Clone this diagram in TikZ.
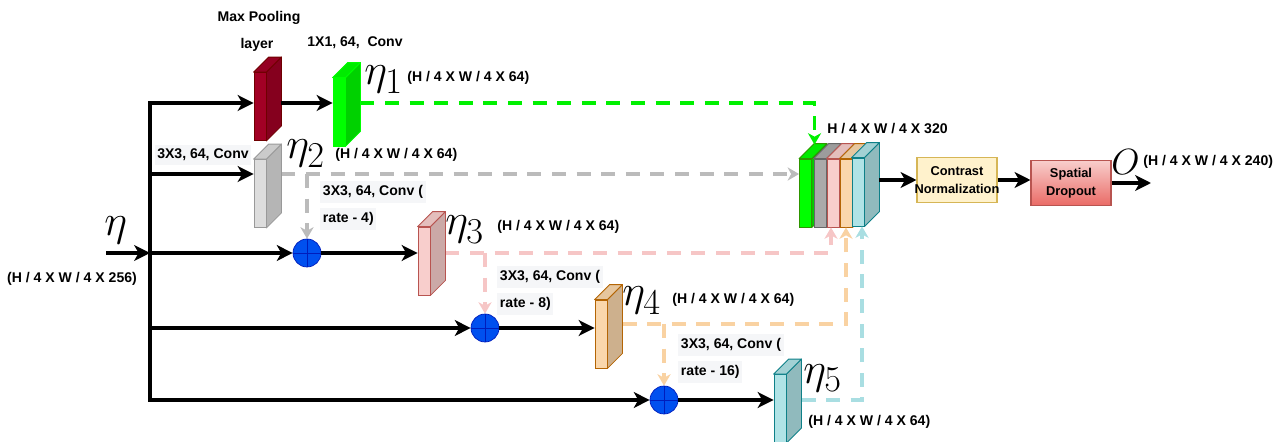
\documentclass[tikz,border=0pt]{standalone}
\usepackage{fontspec}
\setmainfont{Liberation Sans}
\usetikzlibrary{arrows.meta,calc}

\definecolor{mpred}{HTML}{A20025}
\definecolor{mpredline}{HTML}{6F0000}
\definecolor{convgreen}{HTML}{00FF00}
\definecolor{convgreenline}{HTML}{2D9600}
\definecolor{convgray}{HTML}{DDDDDD}
\definecolor{convgrayline}{HTML}{999999}
\definecolor{stackgray}{HTML}{AAAAAA}
\definecolor{stackgrayline}{HTML}{666666}
\definecolor{convpink}{HTML}{F8CECC}
\definecolor{convpinkline}{HTML}{B85450}
\definecolor{convorange}{HTML}{FAD7AC}
\definecolor{convorangeline}{HTML}{B46504}
\definecolor{convcyan}{HTML}{B0E3E6}
\definecolor{convcyanline}{HTML}{0E8088}
\definecolor{dashgreen}{HTML}{00F000}
\definecolor{dashgray}{HTML}{BBBBBB}
\definecolor{dashpink}{HTML}{F6C6C6}
\definecolor{dashorange}{HTML}{F9D2A2}
\definecolor{dashcyan}{HTML}{A9DEE2}
\definecolor{plusblue}{HTML}{0050EF}
\definecolor{plusdark}{HTML}{001DBC}
\definecolor{normfill}{HTML}{FFF2CC}
\definecolor{normline}{HTML}{D6B656}
\definecolor{dropfillA}{HTML}{F8CECC}
\definecolor{dropfillB}{HTML}{EA6B66}
\definecolor{dropline}{HTML}{B85450}
\definecolor{labelbg}{HTML}{F5F6F8}

% depth faces (side and top) of a slab whose front face is node #1
\newcommand\slabdepth[3]{%
  \filldraw[fill=#2!82!black, draw=#3, line width=0.5pt, line join=round]
    (#1.north east) -- ++(15,-15) -- ([shift={(15,-15)}]#1.south east) -- (#1.south east) -- cycle;
  \filldraw[fill=#2!92!black, draw=#3, line width=0.5pt, line join=round]
    (#1.north west) -- ++(15,-15) -- ([shift={(15,-15)}]#1.north east) -- (#1.north east) -- cycle;
}

\begin{document}
\begin{tikzpicture}[x=0.02cm, y=-0.02cm,
  slab/.style={draw, line width=0.5pt, minimum width=0.24cm, minimum height=1.36cm, inner sep=0},
  lbl/.style={font=\bfseries\fontsize{8}{9.6}\selectfont, inner sep=0},
  boxlbl/.style={font=\bfseries\fontsize{7.3}{9}\selectfont, align=center, inner sep=0},
  convlbl/.style={font=\bfseries\fontsize{8}{9.6}\selectfont, fill=labelbg, inner xsep=1.5pt, inner ysep=2.5pt},
  etal/.style={font=\fontsize{28.5}{28.5}\selectfont, inner sep=0, anchor=base west},
  arr/.style={line width=2.3pt, -{Stealth[length=9pt, width=9pt, inset=2.5pt]}},
  dsh/.style={line width=2.2pt, dash pattern=on 8pt off 6pt, -{Stealth[length=6.5pt, width=7.5pt, inset=2pt]}},
  oplus/.style={circle, fill=plusblue, draw=plusdark, line width=0.4pt, minimum size=0.56cm, inner sep=0,
    path picture={\draw[plusdark, line width=0.5pt]
      (path picture bounding box.north) -- (path picture bounding box.south)
      (path picture bounding box.west) -- (path picture bounding box.east);}},
  procbox/.style={draw, line width=0.6pt, minimum width=1.6cm, minimum height=0.9cm, inner sep=0}
]
\useasboundingbox (0,0) rectangle (1285,442);

% ---------- branch points on the input trunk ----------
\coordinate (t0) at (150,103);
\coordinate (b2) at (150,174);
\coordinate (b3) at (150,253);
\coordinate (b4) at (150,328);
\coordinate (t4) at (150,400);
\coordinate (in) at (106,253);

% ---------- sum nodes ----------
\node[oplus] (s1) at (307,253) {};
\node[oplus] (s2) at (485,328) {};
\node[oplus] (s3) at (664,400) {};

% ---------- slabs of the branches ----------
\node[slab, fill=mpred, draw=mpredline] (mp) at (260,106.5) {};
\node[slab, fill=convgreen, draw=convgreen] (c1) at (339,112) {};
\node[slab, fill=convgray, draw=convgrayline] (g) at (260,193.5) {};
\node[slab, fill=convpink, draw=convpinkline] (p) at (424,261) {};
\node[slab, fill=convorange, draw=convorangeline] (o) at (601,334) {};
\node[slab, fill=convcyan, draw=convcyanline] (cy) at (780,408.5) {};

% ---------- concatenated stack ----------
\node[slab, fill=convgreen, draw=convgreenline] (k1) at (805.5,193) {};
\slabdepth{k1}{convgreen}{convgreenline}
\node[slab, fill=stackgray, draw=stackgrayline] (k2) at (820,193) {};
\slabdepth{k2}{stackgray}{stackgrayline}
\node[slab, fill=convpink, draw=convpinkline] (k3) at (833,193) {};
\slabdepth{k3}{convpink}{convpinkline}
\node[slab, fill=convorange, draw=convorangeline] (k4) at (846,193) {};
\slabdepth{k4}{convorange}{convorangeline}
\node[slab, fill=convcyan, draw=convcyanline] (k5) at (858,192) {};
\slabdepth{k5}{convcyan}{convcyanline}

% ---------- processing boxes ----------
\node[procbox, fill=normfill, draw=normline] (cn) at (957,180) {};
\node[boxlbl] at (cn) {Contrast\\[1pt]Normalization};
\node[procbox, top color=dropfillA, bottom color=dropfillB, draw=dropline] (sd) at (1071,183) {};
\node[boxlbl] at (sd) {Spatial\\[1pt]Dropout};

% ---------- dashed skip connections ----------
\coordinate (gstart) at ($(g.east |- b2)+(15,0)$);
\draw[dsh, dashgray] (gstart) -- (gstart -| k1.west);
\draw[dsh, dashgray] (s1 |- b2) -- (s1.north);

\coordinate (pstart) at ($(p.east |- b3)+(15,0)$);
\coordinate (pup) at ($(k3.south)+(-2,0)$);
\draw[dsh, dashpink] (pstart) -- (pstart -| pup) -- (pup);
\draw[dsh, dashpink] (s2 |- b3) -- (s2.north);

\coordinate (ostart) at ($(o.east)+(15,-10)$);
\coordinate (oup) at (k4.south);
\draw[dsh, dashorange] (ostart) -- (ostart -| oup) -- (oup);
\draw[dsh, dashorange] (s3 |- ostart) -- (s3.north);

\coordinate (cstart) at ($(cy.east |- t4)+(15,0)$);
\coordinate (cup) at ($(k5.south)+(4,0)$);
\draw[dsh, dashcyan] (cstart) -- (cstart -| cup) -- (cup);

\coordinate (gnstart) at ($(c1.east |- t0)+(15,0)$);
\coordinate (gndown) at ($(k1.north)+(9,-14)$);
\draw[dsh, dashgreen] (gnstart) -- (gnstart -| gndown) -- (gndown);

% ---------- black data flow ----------
\draw[arr] (t4) -- (t0) -- (t0 -| mp.west);
\draw[arr] (t0) -- (t4) -- (s3.west);
\draw[arr] (in) -- (b3);
\draw[arr] (b2) -- (b2 -| g.west);
\draw[arr] (b3) -- (s1.west);
\draw[arr] (b4) -- (s2.west);
\draw[arr] (s1.east) -- (s1.east -| p.west);
\draw[arr] (s2.east) -- (s2.east -| o.west);
\draw[arr] (s3.east) -- (s3.east -| cy.west);

% depth faces of the branch slabs drawn over the line ends
\slabdepth{mp}{mpred}{mpredline}
\slabdepth{c1}{convgreen}{convgreen}
\slabdepth{g}{convgray}{convgrayline}
\slabdepth{p}{convpink}{convpinkline}
\slabdepth{o}{convorange}{convorangeline}
\slabdepth{cy}{convcyan}{convcyanline}

\draw[arr] ($(mp.east |- t0)+(15,0)$) -- (t0 -| c1.west);

\coordinate (kout) at ($(k5.east)+(15,-12)$);
\draw[arr] (kout) -- (cn.west);
\draw[arr] (cn.east) -- (cn.east -| sd.west);
\coordinate (oend) at (1151,183);
\draw[arr] (sd.east) -- (oend);

% ---------- labels ----------
\node[lbl] (lmp1) at (259,18) {Max Pooling};
\node[lbl] (lmp2) at (257,45) {layer};
\node[lbl] (lc1) at (355,43) {1X1, 64,\ \ Conv};
\node[convlbl] (lg) at (203,155) {3X3, 64, Conv};

\node[convlbl, anchor=west] (r4a) at (320,192) {3X3, 64, Conv (};
\node[convlbl, anchor=west] (r4b) at (320,219) {rate - 4)};
\node[convlbl, anchor=west] (r8a) at (497,277) {3X3, 64, Conv (};
\node[convlbl, anchor=west] (r8b) at (497,304) {rate - 8)};
\node[convlbl, anchor=west] (r16a) at (678,345) {3X3, 64, Conv (};
\node[convlbl, anchor=west] (r16b) at (678,372) {rate - 16)};

\node[etal] (e1) at (364,85) {$\eta_1$};
\node[lbl, anchor=west] (d1) at (407,78) {(H / 4 X W / 4 X 64)};
\node[etal] (e2) at (286,159) {$\eta_2$};
\node[lbl, anchor=west] (d2) at (335,155) {(H / 4 X W / 4 X 64)};
\node[etal] (e3) at (445,235) {$\eta_3$};
\node[lbl, anchor=west] (d3) at (497,227) {(H / 4 X W / 4 X 64)};
\node[etal] (e4) at (622,306) {$\eta_4$};
\node[lbl, anchor=west] (d4) at (672,300) {(H / 4 X W / 4 X 64)};
\node[etal] (e5) at (803,383) {$\eta_5$};
\node[lbl, anchor=west] (d5) at (808,422) {(H / 4 X W / 4 X 64)};

\node[etal, font=\fontsize{31}{31}\selectfont] (e0) at (104,236) {$\eta$};
\node[lbl] (d0) at (72,279) {(H / 4 X W / 4 X 256)};

\node[lbl, anchor=west] (dk) at (827,129) {H / 4 X W / 4 X 320};
\node[etal, font=\fontsize{22}{22}\selectfont] (eo) at (1111,175) {$O$};
\node[lbl, anchor=west] (dout) at (1143,162) {(H / 4 X W / 4 X 240)};
\end{tikzpicture}
\end{document}
